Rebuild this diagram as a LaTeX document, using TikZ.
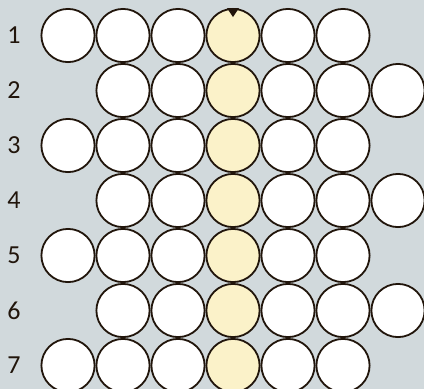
\documentclass[tikz,border=0pt]{standalone}
\usepackage{fontspec}
\setmainfont{Carlito}
\definecolor{bg}{HTML}{D1D9DC}
\definecolor{seat}{HTML}{FBF2C9}
\definecolor{ink}{HTML}{21150B}
\begin{document}
\begin{tikzpicture}[x=1bp,y=-1bp,
  seatc/.style={circle,draw=ink,line width=1.8bp,fill=white,minimum size=53.2bp,inner sep=0pt},
  mid/.style={seatc,fill=seat},
  rowlab/.style={font=\fontsize{26bp}{28bp}\selectfont,text=ink,inner sep=0pt}]
\fill[bg] (0,0) rectangle (424,389);
\useasboundingbox (0,0) rectangle (424,389);
\begin{scope}
\clip (0,0) rectangle (424,389);
\foreach \j in {1,...,7}{
  \pgfmathsetmacro{\yy}{35.5+55*(\j-1)}
  \node[rowlab] (lab\j) at (14,\yy) {\j};
  \ifodd\j
    \foreach \k in {0,...,5}{
      \pgfmathsetmacro{\xx}{68+55*\k}
      \ifnum\k=3 \node[mid] (c\j-\k) at (\xx,\yy) {};
      \else \node[seatc] (c\j-\k) at (\xx,\yy) {}; \fi
    }
  \else
    \foreach \k in {1,...,6}{
      \pgfmathsetmacro{\xx}{68+55*\k}
      \ifnum\k=3 \node[mid] (c\j-\k) at (\xx,\yy) {};
      \else \node[seatc] (c\j-\k) at (\xx,\yy) {}; \fi
    }
  \fi
}
\end{scope}
\fill[ink] ([xshift=-6bp]c1-3.north) -- ([xshift=6bp]c1-3.north) -- ([yshift=-9bp]c1-3.north) -- cycle;
\end{tikzpicture}
\end{document}
